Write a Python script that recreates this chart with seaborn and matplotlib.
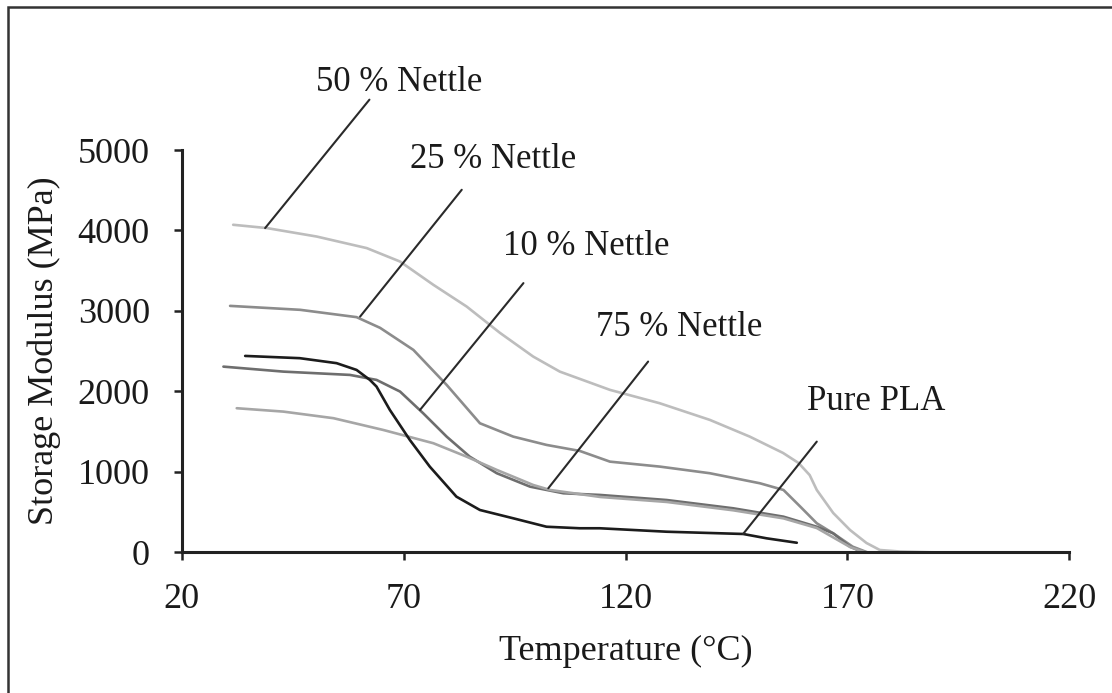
import matplotlib
matplotlib.use("Agg")
import matplotlib.pyplot as plt
import seaborn as sns
import pandas as pd
from matplotlib.patches import Rectangle

# Storage modulus curves (temperature in °C, modulus in MPa)
t_50 = [31.6, 39.2, 50.4, 61.7, 69.2, 76.7, 84.2, 91.7, 99.2, 105.2, 116.5, 127.7,
        139.0, 148.0, 155.5, 159.0, 161.5, 163.1, 166.8, 170.6, 174.3, 177.3, 181.8, 189.3]
e_50 = [4071, 4030, 3925, 3781, 3614, 3325, 3055, 2728, 2433, 2246, 2019, 1853,
        1646, 1438, 1235, 1110, 960, 775, 489, 277, 116, 29, 10, 0]

t_25 = [30.9, 46.7, 59.4, 64.7, 72.2, 79.7, 87.2, 94.7, 102.2, 109.7, 116.5, 127.8,
        139.0, 150.3, 155.6, 159.4, 163.1, 166.8, 171.2, 174.5]
e_25 = [3063, 3014, 2923, 2790, 2516, 2081, 1604, 1438, 1335, 1260, 1127, 1065,
        983, 858, 775, 567, 361, 236, 70, 0]

t_10 = [29.4, 42.9, 57.9, 63.9, 69.2, 74.4, 79.7, 84.9, 91.0, 98.5, 106.0, 114.3,
        129.3, 144.3, 155.6, 163.1, 166.8, 170.6, 173.5]
e_10 = [2308, 2246, 2205, 2143, 1998, 1729, 1438, 1189, 983, 816, 734, 713,
        650, 547, 443, 318, 236, 70, 0]

t_75 = [32.4, 42.9, 54.2, 65.4, 76.7, 84.2, 91.0, 94.7, 99.2, 103.0, 114.3, 129.3,
        144.3, 155.6, 163.1, 170.6, 174.0]
e_75 = [1791, 1749, 1667, 1521, 1356, 1189, 1024, 940, 837, 775, 688, 626,
        522, 422, 302, 66, 0]

t_pla = [34.3, 46.6, 54.9, 59.4, 62.4, 63.9, 66.9, 71.4, 75.9, 81.9, 87.2, 94.7,
         102.2, 109.7, 114.2, 129.3, 146.5, 151.8, 158.6]
e_pla = [2441, 2413, 2351, 2267, 2143, 2060, 1770, 1397, 1065, 692, 526, 423,
         318, 299, 299, 256, 228, 174, 119]

series_names = ["50 % Nettle", "25 % Nettle", "10 % Nettle", "75 % Nettle", "Pure PLA"]
series_colors = ["#bdbdbd", "#8c8c8c", "#6e6e6e", "#a6a6a6", "#1c1c1c"]

x_ticks = [20, 70, 120, 170, 220]
y_ticks = [0, 1000, 2000, 3000, 4000, 5000]

# Label text positions and leader lines (text x, text y, line start, line end)
label_pos = [
    (69.0, 5839, (62.3, 5626), (38.8, 4030)),
    (90.1, 4880, (83.1, 4506), (60.2, 2930)),
    (111.1, 3797, (97.0, 3346), (73.7, 1770)),
    (132.0, 2799, (125.1, 2371), (102.6, 796)),
    (176.4, 1870, (163.1, 1376), (146.5, 228)),
]

frames = []
for name, t, e in zip(series_names,
                      [t_50, t_25, t_10, t_75, t_pla],
                      [e_50, e_25, e_10, e_75, e_pla]):
    frames.append(pd.DataFrame({"Temperature": t, "Modulus": e, "Sample": name}))
df = pd.concat(frames, ignore_index=True)

sns.set_style("ticks")
plt.rcParams["font.family"] = ["Liberation Serif", "DejaVu Serif"]

fig = plt.figure(figsize=(11.12, 6.93), dpi=100)
ax = fig.add_axes([0.1634, 0.2030, 0.7982, 0.5805])

sns.lineplot(data=df, x="Temperature", y="Modulus", hue="Sample",
             hue_order=series_names, palette=series_colors,
             sort=False, estimator=None, linewidth=1.9, legend=False, ax=ax)
for line in ax.get_lines():
    line.set_solid_joinstyle("round")

ax.set_xlim(20, 220)
ax.set_ylim(0, 5000)
ax.set_xticks(x_ticks)
ax.set_yticks(y_ticks)
ax.tick_params(axis="both", labelsize=26, length=6, width=1.8,
               color="#222222", labelcolor="#1a1a1a")
ax.tick_params(axis="x", pad=16)
ax.tick_params(axis="y", pad=17)
for side in ["top", "right"]:
    ax.spines[side].set_visible(False)
for side in ["left", "bottom"]:
    ax.spines[side].set_linewidth(2.2)
    ax.spines[side].set_color("#222222")

ax.set_xlabel("Temperature (°C)", fontsize=26, color="#1a1a1a", labelpad=14)
ax.set_ylabel("Storage Modulus (MPa)", fontsize=26, color="#1a1a1a", labelpad=12)

for name, (tx, ty, p0, p1) in zip(series_names, label_pos):
    ax.plot([p0[0], p1[0]], [p0[1], p1[1]], color="#2a2a2a", linewidth=1.5,
            clip_on=False)
    ax.text(tx, ty, name, fontsize=25, ha="center", va="center",
            color="#1a1a1a", clip_on=False)

# Outer frame (top and left edges)
fig.patches.append(Rectangle((8 / 1112, -0.2), 1.2, 1.2 - 6.5 / 693,
                             transform=fig.transFigure, fill=False,
                             edgecolor="#333333", linewidth=1.8))

fig.savefig("out.png", dpi=100)
